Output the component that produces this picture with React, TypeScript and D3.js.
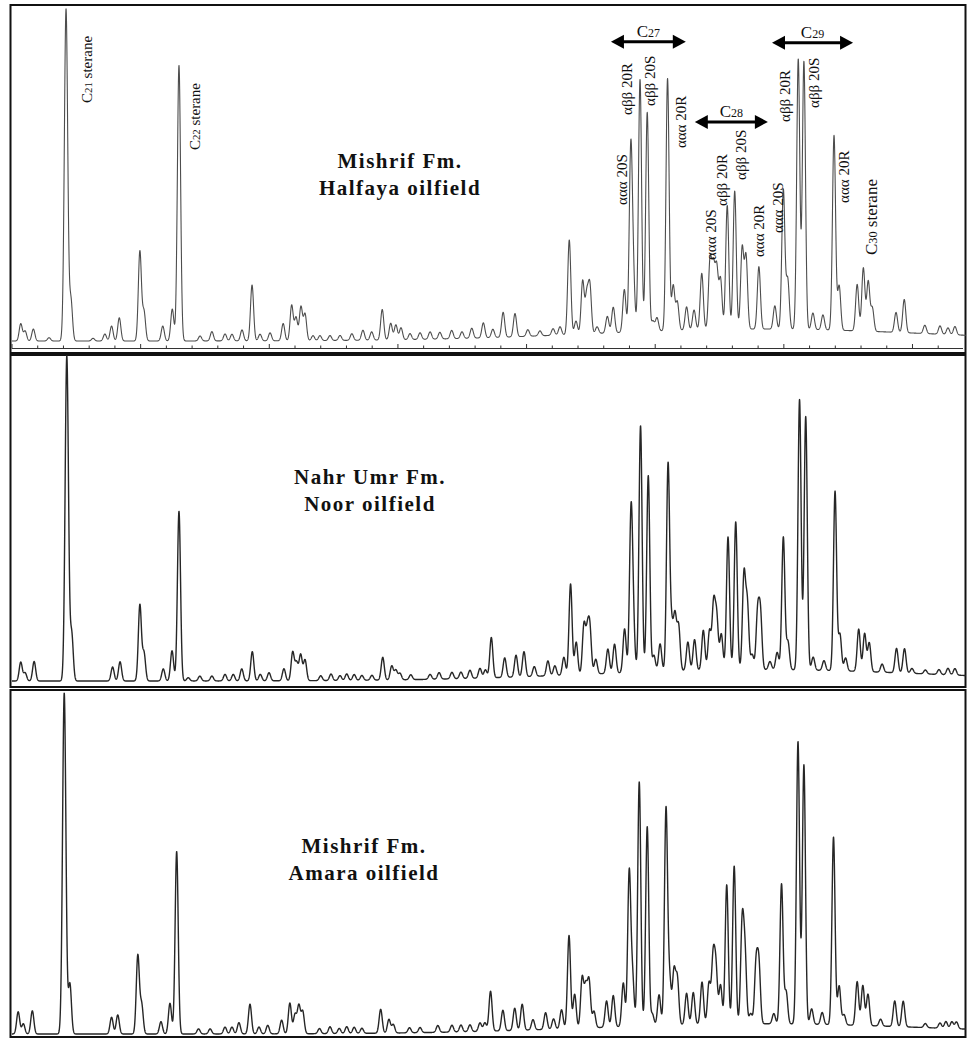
import React from 'react';
import * as d3 from 'd3';

// [retention time (min), intensity (% of C21 peak), optional peak sigma (min)]
type Peak = [number, number, number?];

const halfayaPeaks: Peak[] = [
  [0.34, 5.2], [0.51, 3], [0.83, 3.6], [1.44, 1], [2.1, 100, 0.065], [2.29, 12.3], [3.15, 0.8], [3.61, 2.1],
  [3.87, 4.5], [4.17, 7], [4.97, 27], [5.13, 8.8], [5.86, 4.5], [6.23, 9.6], [6.49, 83, 0.062], [7.31, 1.5],
  [7.77, 2.8], [8.28, 2.1], [8.55, 2], [8.94, 3.3], [9.33, 16.8], [9.64, 2], [10.03, 2.4], [10.54, 5.2],
  [10.87, 10.7], [11.04, 7], [11.23, 10.2], [11.39, 8], [11.7, 1.5], [11.97, 1.5], [12.36, 1.5], [12.75, 1.5],
  [13.21, 2], [13.64, 3], [13.98, 2.5], [14.39, 9.2], [14.72, 5], [14.92, 4.5], [15.12, 3.6], [15.47, 1.8],
  [15.86, 2], [16.25, 2.2], [16.63, 2], [17.09, 2.5], [17.49, 2], [17.87, 3], [18.32, 4.5], [18.69, 2.5],
  [19.09, 7.5], [19.55, 7], [20.05, 2], [20.52, 1.5], [21.03, 2], [21.3, 2.5], [21.66, 28.5], [21.92, 4],
  [22.18, 16], [22.34, 11.5], [22.46, 14.3], [22.74, 2], [23.14, 5], [23.37, 7.7], [23.8, 12.9], [24.05, 54],
  [24.15, 15], [24.41, 76], [24.69, 66], [24.91, 3], [25.07, 4], [25.48, 76], [25.7, 13.5], [25.86, 8.5],
  [26.22, 7], [26.51, 6], [26.81, 17], [27.13, 20.4], [27.26, 18], [27.39, 18], [27.54, 15], [27.8, 37.3],
  [28.09, 41.6], [28.38, 24.3], [28.53, 21.8], [29.03, 18.8], [29.65, 7], [29.98, 42], [30.15, 15], [30.56, 81.4],
  [30.78, 80.7], [31.13, 5], [31.52, 4.5], [31.95, 58.6], [32.15, 13.4], [32.85, 14], [33.09, 19], [33.28, 15],
  [33.44, 7], [34.36, 6], [34.68, 10], [35.48, 2.5], [36.07, 2.5], [36.38, 2], [36.65, 2.5],
];

const noorPeaks: Peak[] = [
  [0.34, 5.8], [0.51, 2.5], [0.86, 6], [2.13, 100, 0.065], [2.32, 14.4], [3.91, 4.3], [4.2, 5.9], [4.97, 23.4],
  [5.13, 8.6], [5.88, 3.7], [6.22, 9.3], [6.49, 52.2], [6.85, 1], [7.3, 1.5], [7.77, 1.5], [8.28, 2],
  [8.6, 2], [8.93, 3.7], [9.34, 9], [9.65, 2], [9.99, 2.5], [10.57, 3.7], [10.91, 8.8], [11.06, 5.5],
  [11.22, 8], [11.39, 6.4], [12.0, 1.5], [12.4, 2], [12.75, 1.5], [13.01, 2], [13.3, 1.8], [13.6, 1.5],
  [13.99, 1.5], [14.41, 7], [14.76, 4.3], [14.92, 3], [15.08, 2], [15.5, 1.5], [16.25, 1.5], [16.6, 2],
  [17.1, 2], [17.45, 2], [17.8, 2.5], [18.19, 3], [18.4, 2.5], [18.63, 12.4], [19.15, 6], [19.59, 6.7],
  [19.9, 7.7], [20.3, 3], [20.83, 4.6], [21.1, 3], [21.45, 5.5], [21.71, 28], [21.93, 10], [22.23, 15],
  [22.36, 11.6], [22.46, 13.5], [22.69, 4.5], [23.16, 7.5], [23.42, 8.9], [23.81, 13.5], [24.06, 47.9], [24.15, 13],
  [24.43, 75.8], [24.73, 60.4], [24.95, 5], [25.19, 8.5], [25.5, 63.5], [25.64, 12.7], [25.77, 16.5], [25.91, 13.7],
  [26.27, 8.8], [26.53, 9.5], [26.87, 12.3], [27.11, 12], [27.27, 20], [27.39, 16], [27.57, 11], [27.83, 40.9],
  [28.13, 45.5], [28.45, 29], [28.58, 20], [28.77, 4.6], [28.98, 17], [29.09, 17], [29.46, 2.5], [29.74, 5.3],
  [29.98, 40.8], [30.16, 8.6], [30.61, 83.2], [30.85, 78], [31.14, 4], [31.56, 3], [31.99, 55.2], [32.18, 11.2],
  [32.4, 4], [32.91, 13], [33.14, 11.7], [33.32, 8.9], [33.82, 2.5], [34.38, 7.5], [34.69, 7.5], [34.98, 1.5],
  [35.5, 1.2], [36.03, 1.5], [36.38, 2], [36.65, 2],
];

const amaraPeaks: Peak[] = [
  [0.24, 6.5], [0.44, 3], [0.79, 6.8], [2.03, 100, 0.065], [2.25, 14.7], [3.87, 4.9], [4.11, 5.6], [4.89, 23],
  [5.04, 8.5], [5.79, 3.6], [6.14, 9], [6.4, 53.5], [7.25, 1.5], [7.7, 1.5], [8.28, 2], [8.55, 2],
  [8.82, 3.3], [9.25, 8.7], [9.6, 2], [9.94, 2.5], [10.48, 4], [10.8, 9], [11.0, 5.6], [11.15, 8.2],
  [11.3, 6.5], [11.95, 1.5], [12.36, 2], [12.72, 1.5], [13.01, 2], [13.3, 1.8], [13.6, 1.5], [14.33, 7],
  [14.65, 4], [14.82, 2.5], [15.45, 1.5], [15.86, 1.5], [16.55, 2], [17.1, 2], [17.45, 2], [17.8, 2],
  [18.19, 2.5], [18.38, 2.5], [18.6, 11.7], [19.08, 6], [19.54, 6.5], [19.83, 7.6], [20.25, 3], [20.74, 4.9],
  [21.05, 3], [21.36, 5.6], [21.65, 27.3], [21.87, 10], [22.16, 14.6], [22.3, 11.6], [22.43, 13.6], [22.62, 4.8],
  [23.11, 7.7], [23.37, 9.2], [23.76, 12.8], [23.99, 45], [24.12, 14], [24.38, 71.6], [24.69, 58.4], [24.89, 3.4],
  [25.15, 9], [25.42, 63.3], [25.56, 13], [25.73, 15.6], [25.86, 13.4], [26.22, 9.2], [26.48, 9.4], [26.82, 12.4],
  [27.09, 12], [27.25, 19], [27.36, 16], [27.54, 11.4], [27.78, 40.8], [28.07, 46.3], [28.38, 29], [28.49, 19.7],
  [28.71, 3], [28.92, 17], [29.03, 17], [29.61, 3], [29.91, 41], [30.09, 9.4], [30.55, 82.8], [30.78, 76],
  [31.08, 4.5], [31.49, 3.5], [31.93, 55], [32.15, 11.4], [32.34, 3], [32.85, 12.8], [33.07, 11.7], [33.27, 9.2],
  [33.76, 2], [34.31, 7.5], [34.64, 7.5], [35.5, 1.2], [36.07, 1.5], [36.3, 2], [36.53, 2], [36.71, 2],
];

// unresolved hump under the sterane envelope: [centre, height, sigma]
const halfayaHump: Peak = [29.07, 3.6, 6.6];
const noorHump: Peak = [29.1, 3.5, 6.6];
const amaraHump: Peak = [29.1, 3.0, 6.6];

// rotated peak labels in the top panel: [text, rt of baseline, level of text start]
const peakLabels: [string, number, number][] = [
  ['ααα 20S', 23.92, 41.0],
  ['αββ 20R', 24.1, 68.1],
  ['αββ 20S', 24.99, 70.8],
  ['ααα 20R', 26.19, 58.1],
  ['ααα 20S', 27.36, 24.4],
  ['αββ 20R', 27.79, 40.7],
  ['αββ 20S', 28.53, 48.5],
  ['ααα 20R', 29.23, 25.3],
  ['ααα 20S', 29.97, 32.5],
  ['αββ 20R', 30.24, 66.0],
  ['αββ 20S', 31.36, 70.2],
  ['ααα 20R', 32.55, 41.6],
];

// [carbon number, rt start, rt end, arrow level]
const carbonGroups: [string, number, number, number][] = [
  ['27', 23.28, 26.19, 90.1],
  ['28', 26.54, 29.38, 66.0],
  ['29', 29.54, 32.69, 89.8],
];

// [carbon number, rt, level, font size]
const steraneLabels: [string, number, number, number][] = [
  ['21', 3.09, 71.7, 15],
  ['22', 7.31, 57.5, 15],
  ['30', 33.62, 25.9, 17],
];

const RT_MAX = 37.08;
const SIGMA = 0.06;
const FONT = '"Liberation Serif", "Times New Roman", serif';

const signal = (t: number, peaks: Peak[], hump: Peak) => {
  let s = hump[1] * Math.exp(-((t - hump[0]) ** 2) / (2 * (hump[2] as number) ** 2));
  for (const [c, h, w = SIGMA] of peaks) {
    const d = t - c;
    if (Math.abs(d) > 8 * w) continue;
    s += h * Math.exp(-(d * d) / (2 * w * w));
  }
  return s;
};

const panels = [
  { key: 'halfaya', peaks: halfayaPeaks, hump: halfayaHump, top: 5, bottom: 353, base: 341, apex: 9,
    lines: ['Mishrif Fm.', 'Halfaya oilfield'], cx: 400, ty: 168, stroke: '#4d4d4d', sw: 1.1, axis: true },
  { key: 'noor', peaks: noorPeaks, hump: noorHump, top: 355, bottom: 687, base: 681, apex: 356,
    lines: ['Nahr Umr Fm.', 'Noor oilfield'], cx: 370, ty: 484, stroke: '#262626', sw: 1.4, axis: false },
  { key: 'amara', peaks: amaraPeaks, hump: amaraHump, top: 690, bottom: 1037, base: 1034, apex: 693,
    lines: ['Mishrif Fm.', 'Amara oilfield'], cx: 364, ty: 853, stroke: '#262626', sw: 1.4, axis: false },
];

const App = () => {
  const x = d3.scaleLinear().domain([0, RT_MAX]).range([12, 966]);
  const samples = d3.range(0, RT_MAX, 0.006);
  const ticks = x.ticks(37).filter(t => t <= 36.5);
  const y1 = d3.scaleLinear().domain([0, 100]).range([panels[0].base, panels[0].apex]);

  return (
    <svg width={968} height={1039} style={{ display: 'block', position: 'absolute', left: 0, top: 0, background: '#fff' }}
      fontFamily={FONT}>
      {panels.map(p => {
        const y = d3.scaleLinear().domain([0, 100]).range([p.base, p.apex]);
        const line = d3.line<number>().x(t => x(t)).y(t => y(signal(t, p.peaks, p.hump)));
        return (
          <g key={p.key}>
            <rect x={10.5} y={p.top} width={955} height={p.bottom - p.top} fill="#fff" stroke="#111" strokeWidth={2} />
            <path d={line(samples) || ''} fill="none" stroke={p.stroke} strokeWidth={p.sw} strokeLinejoin="round" />
            {p.axis && (
              <g>
                <line x1={12} x2={963} y1={348.5} y2={348.5} stroke="#333" strokeWidth={1.2} />
                {ticks.map(t => (
                  <line key={t} x1={x(t)} x2={x(t)} y1={348.5} y2={t % 5 === 0 ? 344 : 345.5} stroke="#333" strokeWidth={1} />
                ))}
              </g>
            )}
            {p.lines.map((s, i) => (
              <text key={s} x={p.cx} y={p.ty + i * 27} textAnchor="middle" fontSize={21} fontWeight="bold"
                letterSpacing={1.5} fill="#111">{s}</text>
            ))}
          </g>
        );
      })}

      {steraneLabels.map(([n, rt, lv, fs]) => (
        <text key={n} transform={`translate(${x(rt)},${y1(lv)}) rotate(-90)`} fontSize={fs} fill="#111">
          C<tspan fontSize={fs * 0.72}>{n}</tspan> sterane
        </text>
      ))}

      {peakLabels.map(([s, rt, lv], i) => (
        <text key={i} transform={`translate(${x(rt)},${y1(lv)}) rotate(-90)`} fontSize={15} fill="#111">{s}</text>
      ))}

      {carbonGroups.map(([n, a, b, lv]) => {
        const xa = x(a), xb = x(b), yy = y1(lv), hl = 13, hw = 7;
        return (
          <g key={n}>
            <line x1={xa + hl - 1} x2={xb - hl + 1} y1={yy} y2={yy} stroke="#000" strokeWidth={3} />
            <polygon points={`${xa},${yy} ${xa + hl},${yy - hw} ${xa + hl},${yy + hw}`} fill="#000" />
            <polygon points={`${xb},${yy} ${xb - hl},${yy - hw} ${xb - hl},${yy + hw}`} fill="#000" />
            <text x={(xa + xb) / 2} y={yy - 5} textAnchor="middle" fontSize={17} fill="#111">
              C<tspan fontSize={12}>{n}</tspan>
            </text>
          </g>
        );
      })}
    </svg>
  );
};

export default App;
